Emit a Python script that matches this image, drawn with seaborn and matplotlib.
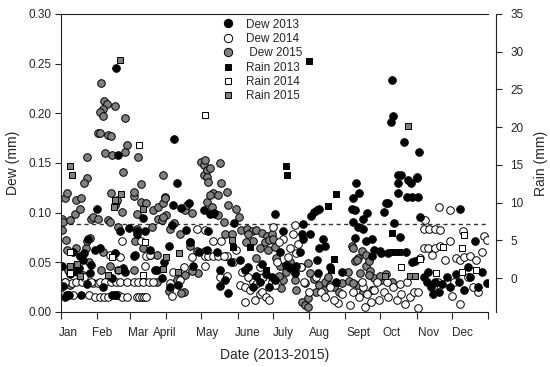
import matplotlib
matplotlib.use('Agg')
import matplotlib.pyplot as plt
from matplotlib.lines import Line2D
import seaborn as sns
import pandas as pd

# day of year, dew (mm)
dew_2013 = [
    (1, 0.046), (2, 0.026), (16, 0.056), (23, 0.073), (29, 0.062), (26, 0.047), (13, 0.041),
    (8, 0.038), (25, 0.039), (19, 0.052), (20, 0.059), (15, 0.044), (10, 0.060), (3, 0.015),
    (5, 0.017), (7, 0.017), (17, 0.017), (22, 0.028),
    (47, 0.246), (49, 0.158), (31, 0.104), (50, 0.081), (46, 0.059), (44, 0.034), (53, 0.044),
    (33, 0.064), (36, 0.025), (44, 0.017), (46, 0.017), (47, 0.017), (55, 0.040), (58, 0.085),
    (62, 0.056), (65, 0.081), (72, 0.081), (76, 0.062), (80, 0.042), (86, 0.034), (93, 0.025),
    (65, 0.078), (63, 0.057), (82, 0.042), (70, 0.095), (88, 0.050),
    (97, 0.174), (99, 0.130), (96, 0.108), (109, 0.110), (107, 0.083), (113, 0.046), (92, 0.066),
    (100, 0.027), (95, 0.088), (103, 0.105), (110, 0.070), (118, 0.060),
    (122, 0.103), (127, 0.099), (126, 0.081), (125, 0.062), (136, 0.042), (140, 0.032),
    (136, 0.026), (143, 0.019), (131, 0.100), (148, 0.090), (133, 0.060), (145, 0.050),
    (153, 0.052), (157, 0.042), (167, 0.036), (160, 0.045), (170, 0.030), (175, 0.038),
    (178, 0.025), (164, 0.025), (172, 0.048), (180, 0.035),
    (183, 0.099), (207, 0.089), (206, 0.078), (190, 0.081), (192, 0.047), (194, 0.046),
    (201, 0.046), (183, 0.032), (196, 0.044), (200, 0.039), (187, 0.060), (204, 0.060),
    (213, 0.078), (216, 0.101), (219, 0.103), (221, 0.104), (224, 0.073), (221, 0.064),
    (219, 0.052), (220, 0.039), (226, 0.066), (214, 0.097), (207, 0.073), (230, 0.045),
    (235, 0.030), (240, 0.040),
    (250, 0.115), (249, 0.104), (251, 0.103), (250, 0.091), (254, 0.086), (258, 0.094),
    (251, 0.074), (261, 0.071), (266, 0.073), (273, 0.061), (266, 0.056), (268, 0.062),
    (274, 0.059), (280, 0.059), (252, 0.130), (255, 0.120), (258, 0.084), (262, 0.100),
    (288, 0.138), (288, 0.130), (297, 0.133), (296, 0.116), (288, 0.120), (280, 0.110),
    (276, 0.101), (283, 0.234), (284, 0.197), (282, 0.191), (293, 0.171), (306, 0.161),
    (291, 0.138), (304, 0.135), (299, 0.130), (278, 0.110), (285, 0.090), (290, 0.075),
    (295, 0.060), (300, 0.050),
    (304, 0.136), (305, 0.116), (300, 0.116), (307, 0.096), (303, 0.051), (341, 0.104),
    (310, 0.035), (313, 0.030), (316, 0.025), (320, 0.030), (323, 0.020), (326, 0.028),
    (330, 0.035), (333, 0.025), (314, 0.040), (318, 0.018),
    (354, 0.071), (364, 0.029), (340, 0.030), (345, 0.022), (350, 0.035), (357, 0.025),
    (338, 0.038), (348, 0.045), (360, 0.040),
]

dew_2014 = [
    (1, 0.017), (5, 0.017), (10, 0.017), (24, 0.017), (29, 0.015), (33, 0.015), (37, 0.015),
    (40, 0.015), (9, 0.029), (22, 0.029), (27, 0.029), (32, 0.029), (3, 0.030), (13, 0.030),
    (18, 0.030), (26, 0.030), (14, 0.040), (20, 0.035),
    (33, 0.030), (38, 0.030), (43, 0.030), (47, 0.030), (50, 0.030), (56, 0.030), (42, 0.057),
    (47, 0.057), (50, 0.055), (52, 0.071), (49, 0.017), (52, 0.015), (56, 0.015),
    (62, 0.030), (66, 0.030), (70, 0.030), (75, 0.030), (79, 0.030), (68, 0.071), (73, 0.056),
    (76, 0.057), (72, 0.046), (65, 0.015), (67, 0.015), (69, 0.015), (71, 0.015), (73, 0.015),
    (93, 0.029), (95, 0.016), (102, 0.032), (116, 0.084), (110, 0.070), (96, 0.040),
    (105, 0.045), (112, 0.055),
    (123, 0.056), (126, 0.056), (130, 0.056), (134, 0.056), (140, 0.056), (142, 0.056),
    (147, 0.050), (136, 0.035), (150, 0.062), (123, 0.083), (130, 0.071), (137, 0.071),
    (139, 0.056), (123, 0.046), (142, 0.036),
    (153, 0.027), (157, 0.025), (162, 0.022), (157, 0.010), (164, 0.030), (167, 0.028),
    (170, 0.018), (172, 0.020), (175, 0.015), (178, 0.012), (166, 0.012), (160, 0.035),
    (173, 0.035), (180, 0.030), (155, 0.040), (170, 0.045),
    (181, 0.086), (190, 0.073), (196, 0.064), (201, 0.059), (200, 0.088), (186, 0.070),
    (194, 0.055), (185, 0.050), (205, 0.045), (183, 0.027), (208, 0.030), (212, 0.020),
    (198, 0.078), (203, 0.068),
    (237, 0.009), (222, 0.020), (226, 0.015), (230, 0.025), (233, 0.012), (240, 0.018),
    (218, 0.035),
    (250, 0.020), (255, 0.015), (258, 0.025), (262, 0.018), (265, 0.010), (268, 0.022),
    (272, 0.012), (257, 0.030), (247, 0.007), (260, 0.005), (270, 0.030),
    (276, 0.020), (280, 0.015), (284, 0.025), (287, 0.012), (291, 0.018), (294, 0.008),
    (298, 0.015), (302, 0.020), (279, 0.030), (290, 0.028), (296, 0.030),
    (323, 0.106), (333, 0.103), (311, 0.093), (310, 0.084), (315, 0.084), (320, 0.084),
    (324, 0.083), (333, 0.071), (310, 0.064), (314, 0.064), (320, 0.064), (324, 0.066),
    (317, 0.057), (307, 0.054), (328, 0.052), (305, 0.020), (305, 0.004), (318, 0.025),
    (322, 0.030), (330, 0.030), (334, 0.016),
    (344, 0.081), (362, 0.076), (338, 0.054), (341, 0.052), (345, 0.055), (350, 0.056),
    (355, 0.052), (341, 0.008), (357, 0.020), (348, 0.035), (360, 0.060), (364, 0.072),
    (336, 0.030), (352, 0.025),
]

dew_2015 = [
    (1, 0.094), (2, 0.091), (3, 0.115), (5, 0.120), (8, 0.093), (12, 0.099), (13, 0.113),
    (16, 0.104), (17, 0.115), (26, 0.094), (27, 0.096), (22, 0.156), (22, 0.135), (20, 0.130),
    (1, 0.082), (4, 0.072), (5, 0.062), (13, 0.064), (21, 0.064), (22, 0.071), (25, 0.074),
    (6, 0.042), (8, 0.027), (3, 0.030), (19, 0.037), (24, 0.050),
    (34, 0.230), (37, 0.212), (39, 0.209), (36, 0.204), (33, 0.201), (36, 0.197), (46, 0.207),
    (55, 0.195), (32, 0.180), (33, 0.180), (40, 0.178), (43, 0.177), (56, 0.168), (55, 0.161),
    (38, 0.160), (44, 0.158), (53, 0.141), (43, 0.120), (47, 0.111), (46, 0.108), (40, 0.093),
    (49, 0.086), (42, 0.091), (48, 0.113), (52, 0.101), (32, 0.094), (34, 0.042), (49, 0.042),
    (42, 0.046), (36, 0.060),
    (66, 0.156), (87, 0.138), (68, 0.129), (62, 0.117), (68, 0.111), (73, 0.110), (79, 0.103),
    (83, 0.106), (87, 0.110), (89, 0.116), (65, 0.099), (83, 0.094), (86, 0.093), (90, 0.098),
    (78, 0.086), (63, 0.071), (70, 0.064), (82, 0.057), (62, 0.042), (62, 0.121), (65, 0.084),
    (76, 0.057), (82, 0.030),
    (120, 0.151), (122, 0.138), (106, 0.103), (93, 0.084), (110, 0.066), (116, 0.061),
    (117, 0.039), (106, 0.037), (105, 0.020), (99, 0.032), (87, 0.096), (89, 0.115),
    (102, 0.078), (103, 0.019), (92, 0.021), (97, 0.090), (112, 0.100), (108, 0.108),
    (122, 0.148), (125, 0.143), (125, 0.136), (126, 0.131), (137, 0.130), (136, 0.150),
    (130, 0.120), (134, 0.118), (142, 0.121), (125, 0.111), (129, 0.106), (132, 0.099),
    (143, 0.108), (150, 0.104), (152, 0.096), (139, 0.091), (140, 0.078), (127, 0.118),
    (134, 0.098), (146, 0.078), (123, 0.061), (112, 0.041), (123, 0.153), (127, 0.145),
    (154, 0.083), (159, 0.084), (163, 0.081), (167, 0.083), (172, 0.079), (176, 0.076),
    (180, 0.078), (164, 0.071), (170, 0.064), (177, 0.062), (167, 0.054), (158, 0.070),
    (174, 0.070), (160, 0.078), (178, 0.072),
    (181, 0.073), (184, 0.054), (187, 0.046), (190, 0.032), (201, 0.022), (206, 0.010),
    (209, 0.007), (211, 0.005), (211, 0.014), (196, 0.050), (200, 0.032), (186, 0.036),
    (188, 0.024), (192, 0.040), (205, 0.045), (183, 0.065),
    (211, 0.049), (213, 0.039), (209, 0.029), (221, 0.027), (226, 0.030), (230, 0.027),
    (235, 0.029), (240, 0.029), (246, 0.031), (218, 0.020), (225, 0.022), (233, 0.025),
    (238, 0.020), (216, 0.033), (228, 0.035),
    (249, 0.066), (251, 0.051), (254, 0.054), (261, 0.046), (264, 0.041), (254, 0.027),
    (258, 0.020), (266, 0.022), (268, 0.034), (274, 0.032), (250, 0.064), (253, 0.052),
    (257, 0.061), (261, 0.057), (263, 0.051), (256, 0.039), (263, 0.037), (273, 0.036),
    (250, 0.029), (245, 0.040), (278, 0.038), (283, 0.030),
]

# day of year, rain (mm)
rain_2013 = [
    (212, 28.8), (192, 14.8), (193, 13.6), (235, 11.2), (228, 9.5), (283, 6.0), (283, 3.5),
    (289, 3.5), (233, 2.5), (231, 1.1), (175, 1.1), (162, 4.1), (147, 4.1),
]
rain_2014 = [
    (67, 17.6), (123, 21.6), (8, 3.4), (8, 0.7), (44, 2.8), (72, 4.8), (70, 0.4), (343, 4.0),
    (345, 5.7), (327, 4.1), (307, 2.5), (291, 1.4), (355, 1.1), (343, 0.8), (321, 0.6),
]
rain_2015 = [
    (50, 28.9), (297, 20.1), (8, 14.8), (9, 13.6), (51, 11.2), (46, 10.3), (45, 9.4),
    (8, 1.6), (14, 1.9), (16, 0.2), (49, 1.1), (40, 0.4), (70, 9.2), (90, 2.8), (87, 1.2),
    (101, 3.3), (100, 0.8), (277, 0.2), (298, 0.3), (303, 0.2), (146, 5.0),
]

month_starts = [0, 31, 59, 90, 120, 151, 181, 212, 243, 273, 304, 334, 365]
month_labels = ['Jan', 'Feb', 'Mar', 'April', 'May', 'June', 'July', 'Aug', 'Sept', 'Oct', 'Nov', 'Dec']
label_days = [6, 35, 66, 89, 125, 160, 190, 221, 254, 283, 314, 343]

sns.set_style('ticks')
plt.rcParams['font.family'] = ['Liberation Sans', 'DejaVu Sans']

fig = plt.figure(figsize=(5.5, 3.67), dpi=100)
ax = fig.add_axes([0.111, 0.150, 0.776, 0.812])
ax2 = ax.twinx()


def draw(axis, pts, face, marker, size):
    df = pd.DataFrame(pts, columns=['day', 'val'])
    sns.scatterplot(data=df, x='day', y='val', ax=axis, color=face, edgecolor='black',
                    linewidth=0.7, marker=marker, s=size, legend=False)


ax.axhline(0.089, color='#333333', lw=1, ls=(0, (3, 2.5)), zorder=0)
draw(ax, dew_2015, '#808080', 'o', 30)
draw(ax, dew_2014, 'white', 'o', 30)
draw(ax, dew_2013, 'black', 'o', 30)
draw(ax2, rain_2013, 'black', 's', 24)
draw(ax2, rain_2014, 'white', 's', 24)
draw(ax2, rain_2015, '#808080', 's', 24)

ax.set_xlim(0, 365)
ax.set_ylim(0, 0.30)
ax2.set_ylim(-4.5, 35)

ax.set_xticks(month_starts)
ax.set_xticklabels([])
ax.set_xticks(label_days, minor=True)
ax.set_xticklabels(month_labels, minor=True)
ax.tick_params(axis='x', which='minor', length=0, pad=11, labelsize=8.5)
ax.tick_params(axis='x', which='major', length=5, width=0.8, direction='out')
ax.set_yticks([0, 0.05, 0.10, 0.15, 0.20, 0.25, 0.30])
ax.set_yticklabels(['%.2f' % v for v in [0, 0.05, 0.10, 0.15, 0.20, 0.25, 0.30]])
ax.tick_params(axis='y', length=4, width=0.8, direction='out', labelsize=8.5, pad=3)
ax2.set_yticks([0, 5, 10, 15, 20, 25, 30, 35])
ax2.tick_params(axis='y', length=4, width=0.8, direction='out', labelsize=8.5, pad=6)

for s in ['left', 'bottom', 'top']:
    ax.spines[s].set_linewidth(0.8)
    ax.spines[s].set_color('#222222')
ax.spines['right'].set_visible(False)
for s in ['left', 'bottom', 'top']:
    ax2.spines[s].set_visible(False)
ax2.spines['right'].set_position(('outward', 6))
ax2.spines['right'].set_linewidth(0.8)
ax2.spines['right'].set_color('#222222')

ax.set_xlabel('Date (2013-2015)', fontsize=10, labelpad=6)
ax.set_ylabel('Dew (mm)', fontsize=10, labelpad=6)
ax2.set_ylabel('Rain (mm)', fontsize=10, labelpad=8)

handles = [
    Line2D([], [], ls='', marker='o', ms=6, mfc='black', mec='black', mew=0.7),
    Line2D([], [], ls='', marker='o', ms=6, mfc='white', mec='black', mew=0.7),
    Line2D([], [], ls='', marker='o', ms=6, mfc='#808080', mec='black', mew=0.7),
    Line2D([], [], ls='', marker='s', ms=5, mfc='black', mec='black', mew=0.7),
    Line2D([], [], ls='', marker='s', ms=5, mfc='white', mec='black', mew=0.7),
    Line2D([], [], ls='', marker='s', ms=5, mfc='#808080', mec='black', mew=0.7),
]
labels = ['Dew 2013', 'Dew 2014', ' Dew 2015', 'Rain 2013', 'Rain 2014', 'Rain 2015']
ax2.legend(handles, labels, loc='upper left', bbox_to_anchor=(0.35, 1.02), frameon=False,
           fontsize=8.5, labelspacing=0.2, handletextpad=0.9, handlelength=1.2)

fig.savefig('out.png', dpi=100)
